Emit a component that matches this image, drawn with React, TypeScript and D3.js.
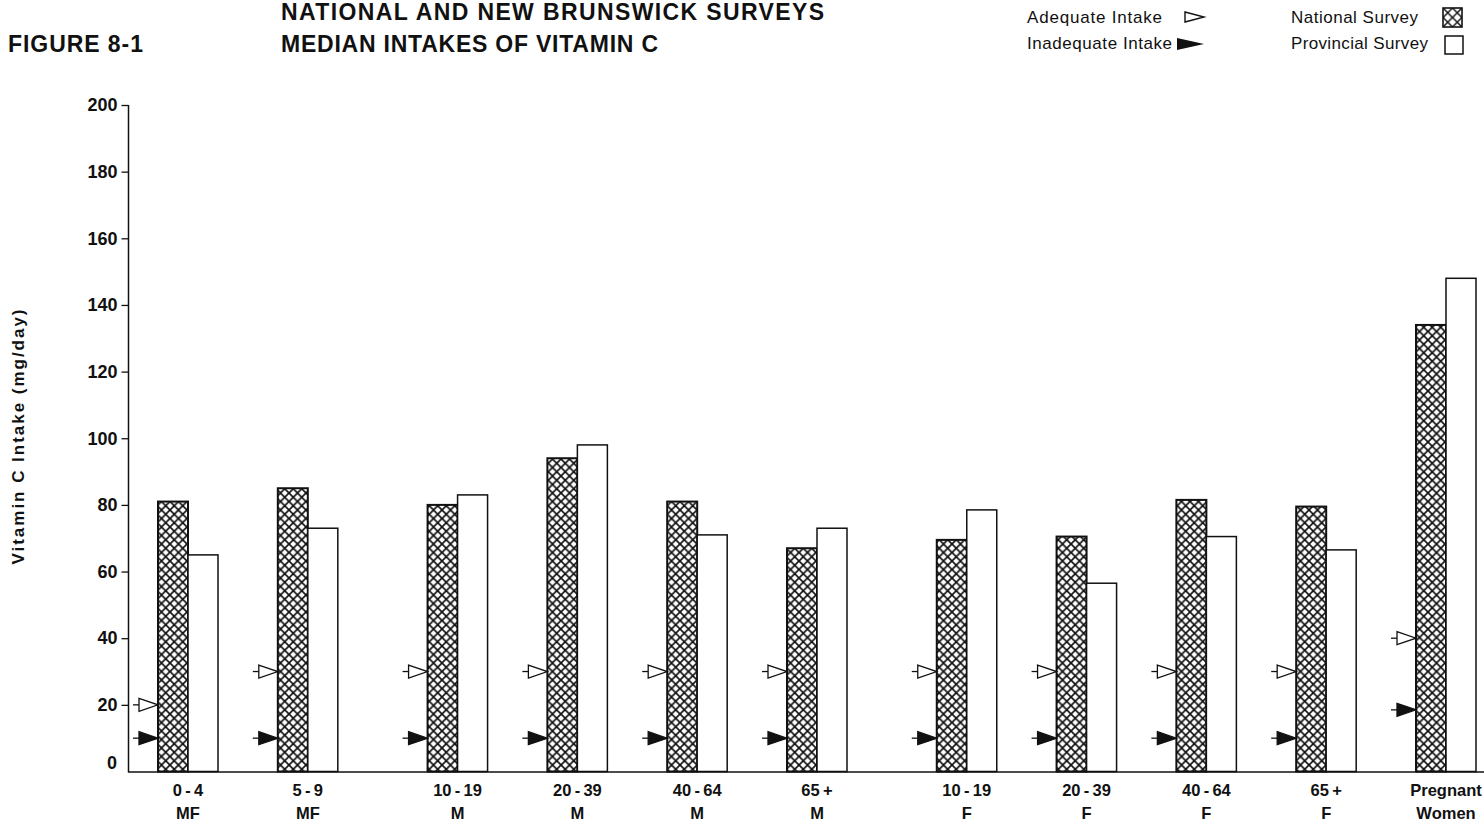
import { useEffect, useRef } from "react";
import * as d3 from "d3";

const WIDTH = 1484;
const HEIGHT = 822;
const FONT = "'Liberation Sans', Arial, Helvetica, sans-serif";

// Age groups and the sex row printed under each
const AGE_GROUPS = ["0-4", "5-9", "10-19", "20-39", "40-64", "65+", "10-19", "20-39", "40-64", "65+", "Pregnant"];
const SEX_GROUPS = ["MF", "MF", "M", "M", "M", "M", "F", "F", "F", "F", "Women"];

// Median intakes (mg/day)
const NATIONAL = [81, 85, 80, 94, 81, 67, 69.5, 70.5, 81.5, 79.5, 134];
const PROVINCIAL = [65, 73, 83, 98, 71, 73, 78.5, 56.5, 70.5, 66.5, 148];

// Reference markers
const ADEQUATE = [20, 30, 30, 30, 30, 30, 30, 30, 30, 30, 40];
const INADEQUATE = [10, 10, 10, 10, 10, 10, 10, 10, 10, 10, 18.5];

const Y_TICKS = [20, 40, 60, 80, 100, 120, 140, 160, 180, 200];

const BAR_W = 30;
const CLUSTER: Record<string, number> = { MF: 0, M: 1, F: 2, Women: 2 };

const prettyAge = (s: string) =>
  s.replace("-", "\u2009-\u2009").replace("+", "\u2009+");

export default function App() {
  const yAxisRef = useRef<SVGGElement>(null);

  const yScale = d3.scaleLinear().domain([0, 200]).range([771.5, 105]);
  // slot = index + a gap between the MF, M and F clusters
  const xScale = d3.scaleLinear().domain([0, 10.5]).range([188, 1446]);
  const slot = (i: number) => i + 0.25 * CLUSTER[SEX_GROUPS[i]];

  useEffect(() => {
    const g = d3.select(yAxisRef.current);
    g.selectAll("*").remove();
    const axis = d3
      .axisLeft(yScale)
      .tickValues(Y_TICKS)
      .tickSize(7)
      .tickSizeOuter(0)
      .tickPadding(4)
      .tickFormat((d) => String(d));
    g.call(axis);
    g.select(".domain").remove();
    g.selectAll(".tick line").attr("stroke", "#111").attr("stroke-width", 1.3);
    g.selectAll(".tick text")
      .attr("font-family", FONT)
      .attr("font-weight", "bold")
      .attr("font-size", 18)
      .attr("fill", "#111");
  }, []);

  const tri = (tipX: number, y: number, filled: boolean, key: string) => (
    <g key={key}>
      <line x1={tipX - 25} x2={tipX - 19} y1={y} y2={y} stroke="#111" strokeWidth={1.3} />
      <path
        d={`M${tipX - 19},${y - 6.5}L${tipX},${y}L${tipX - 19},${y + 6.5}Z`}
        fill={filled ? "#111" : "#fff"}
        stroke="#111"
        strokeWidth={1.3}
      />
    </g>
  );

  return (
    <svg
      width={WIDTH}
      height={HEIGHT}
      style={{ position: "absolute", left: 0, top: 0, background: "#fff" }}
      fontFamily={FONT}
    >
      <defs>
        <pattern id="hatch" patternUnits="userSpaceOnUse" width={8.5} height={8.5}>
          <rect width={8.5} height={8.5} fill="#fff" />
          <path d="M0,0L8.5,8.5M8.5,0L0,8.5" stroke="#111" strokeWidth={1.7} />
        </pattern>
        <pattern id="hatchLegend" patternUnits="userSpaceOnUse" x={1443} y={8} width={9.5} height={9.5}>
          <rect width={9.5} height={9.5} fill="#fff" />
          <path d="M0,0L9.5,9.5M9.5,0L0,9.5" stroke="#111" strokeWidth={1.5} />
        </pattern>
      </defs>

      {/* Titles */}
      <text x={281} y={20} fontSize={23} fontWeight="bold" textLength={543} fill="#111">
        NATIONAL AND NEW BRUNSWICK SURVEYS
      </text>
      <text x={8} y={52} fontSize={23} fontWeight="bold" textLength={135} fill="#111">
        FIGURE 8-1
      </text>
      <text x={281} y={52} fontSize={23} fontWeight="bold" textLength={377} fill="#111">
        MEDIAN INTAKES OF VITAMIN C
      </text>

      {/* Legend */}
      <text x={1027} y={23} fontSize={17} textLength={135} fill="#111">Adequate Intake</text>
      <text x={1027} y={49} fontSize={17} textLength={145} fill="#111">Inadequate Intake</text>
      <path d="M1185,12L1204,17L1185,22Z" fill="#fff" stroke="#111" strokeWidth={1.4} />
      <path d="M1177,38L1204,44L1177,50Z" fill="#111" />
      <text x={1291} y={23} fontSize={17} textLength={127} fill="#111">National Survey</text>
      <text x={1291} y={49} fontSize={17} textLength={137} fill="#111">Provincial Survey</text>
      <rect x={1443} y={8} width={19} height={19} fill="url(#hatchLegend)" stroke="#111" strokeWidth={1.6} />
      <rect x={1445} y={36} width={18} height={18} fill="#fff" stroke="#111" strokeWidth={1.5} />

      {/* Y axis title */}
      <text
        transform="translate(24,437) rotate(-90)"
        textAnchor="middle"
        fontSize={17}
        fontWeight="bold"
        textLength={255}
        fill="#111"
      >
        Vitamin C Intake (mg/day)
      </text>

      {/* Bars */}
      {NATIONAL.map((v, i) => {
        const cx = xScale(slot(i));
        return (
          <rect
            key={"n" + i}
            x={cx - BAR_W}
            y={yScale(v)}
            width={BAR_W}
            height={yScale(0) - yScale(v)}
            fill="url(#hatch)"
            stroke="#111"
            strokeWidth={2}
          />
        );
      })}
      {PROVINCIAL.map((v, i) => {
        const cx = xScale(slot(i));
        return (
          <rect
            key={"p" + i}
            x={cx}
            y={yScale(v)}
            width={BAR_W}
            height={yScale(0) - yScale(v)}
            fill="#fff"
            stroke="#111"
            strokeWidth={1.5}
          />
        );
      })}

      {/* Markers */}
      {ADEQUATE.map((v, i) => tri(xScale(slot(i)) - BAR_W, yScale(v), false, "a" + i))}
      {INADEQUATE.map((v, i) => tri(xScale(slot(i)) - BAR_W, yScale(v), true, "d" + i))}

      {/* Axes */}
      <g ref={yAxisRef} transform="translate(128.5,0)" />
      <line x1={128.5} x2={128.5} y1={yScale(200)} y2={yScale(0) + 1} stroke="#111" strokeWidth={1.5} />
      <line x1={128.5} x2={WIDTH} y1={yScale(0) + 0.5} y2={yScale(0) + 0.5} stroke="#111" strokeWidth={1.5} />
      <text x={117} y={yScale(0) - 3} textAnchor="end" fontSize={18} fontWeight="bold" fill="#111">
        0
      </text>

      {/* X labels */}
      {AGE_GROUPS.map((a, i) => (
        <g key={"x" + i} transform={`translate(${xScale(slot(i))},0)`} fontWeight="bold" fontSize={16.5} fill="#111" textAnchor="middle">
          <text y={796}>{prettyAge(a)}</text>
          <text y={819}>{SEX_GROUPS[i]}</text>
        </g>
      ))}
    </svg>
  );
}
